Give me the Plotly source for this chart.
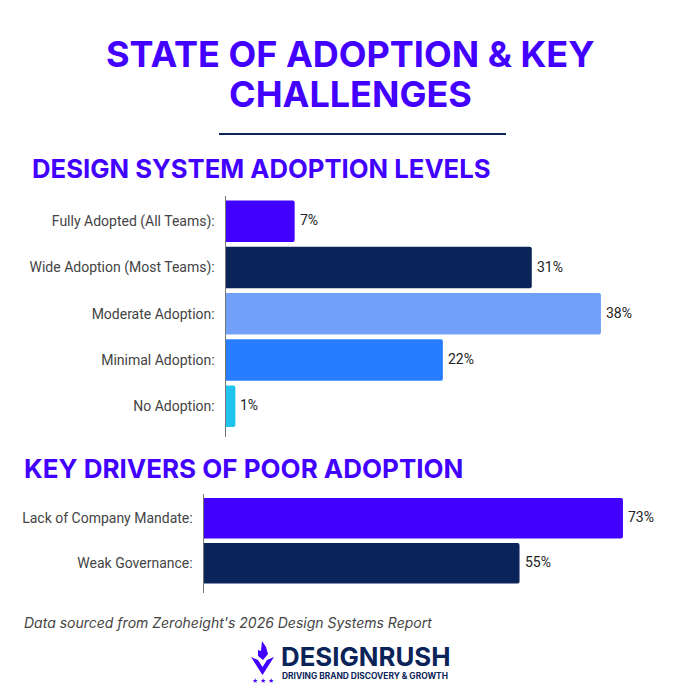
import plotly.graph_objects as go

W = 700
H = 689

# 数据
adoption_labels = ["Fully Adopted (All Teams):", "Wide Adoption (Most Teams):", "Moderate Adoption:",
                   "Minimal Adoption:", "No Adoption:"]
adoption_values = [7, 31, 38, 22, 1]
adoption_colors = ["#4200FF", "#0A2358", "#70A0F8", "#267DFF", "#1FC3EC"]

driver_labels = ["Lack of Company Mandate:", "Weak Governance:"]
driver_values = [73, 55]
driver_colors = ["#4200FF", "#0A2358"]

PURPLE = "#4200FF"
NAVY = "#0A2358"


def px(x):
    return x / W


def py(y):
    return 1 - y / H


def path(points):
    return "M" + " L".join(f"{px(x):.5f},{py(y):.5f}" for x, y in points) + " Z"


def bar_trace(labels, values, colors):
    return go.Bar(
        y=labels, x=values, orientation="h", width=0.9,
        marker=dict(color=colors, line=dict(width=0)),
        hoverinfo="skip",
    )


fig = go.Figure()
fig.add_trace(bar_trace(adoption_labels, adoption_values, adoption_colors))
t2 = bar_trace(driver_labels, driver_values, driver_colors)
t2.xaxis = "x2"
t2.yaxis = "y2"
fig.add_trace(t2)


# 数值标签
def value_labels(labels, values, xref, yref):
    for lab, v in zip(labels, values):
        fig.add_annotation(xref=xref, yref=yref, x=v, y=lab, text=f"{v}%", showarrow=False,
                           xanchor="left", xshift=3, yshift=1,
                           font=dict(family="Roboto", size=14, color="#222222"))


value_labels(adoption_labels, adoption_values, "x", "y")
value_labels(driver_labels, driver_values, "x2", "y2")


def text(x, y, s, size, color=PURPLE, family="Inter", anchor="left", bold=False, italic=False, height=None):
    if bold:
        s = f"<b>{s}</b>"
    if italic:
        s = f"<i>{s}</i>"
    fig.add_annotation(xref="paper", yref="paper", x=px(x), y=py(y), text=s, showarrow=False,
                       xanchor=anchor, yanchor="middle", height=height,
                       font=dict(family=family, size=size, color=color))


# 标题
text(350, 54, "STATE OF ADOPTION &amp; KEY", 36, anchor="center", bold=True)
text(350, 94, "CHALLENGES", 36, anchor="center", bold=True)
text(30, 169, "DESIGN SYSTEM ADOPTION LEVELS", 25.7, bold=True)
text(22, 468, "KEY DRIVERS OF POOR ADOPTION", 26, bold=True)
text(22, 622, "Data sourced from Zeroheight's 2026 Design Systems Report", 14, color="#444444", italic=True)
text(279, 656, "DESIGNRUSH", 25.8, color=NAVY, bold=True, height=22)
text(280, 676, "DRIVING BRAND DISCOVERY &amp; GROWTH", 8.4, color=NAVY, bold=True, height=10)
text(263, 680, "★ ★ ★", 6, anchor="center", color=PURPLE, height=8)

# 分隔线和 logo
shapes = [
    dict(type="line", xref="paper", yref="paper", x0=px(219), x1=px(506), y0=py(134), y1=py(134),
         line=dict(color=NAVY, width=2)),
    dict(type="path", xref="paper", yref="paper", line=dict(width=0), fillcolor=PURPLE,
         path=path([(251, 657), (258, 660), (262.5, 667), (267, 660), (274, 657), (262.5, 675)])),
    dict(type="path", xref="paper", yref="paper", line=dict(width=0), fillcolor=PURPLE,
         path=path([(262, 641), (266, 647), (268, 654), (263, 660), (258, 656), (258, 650), (261, 651)])),
]

fig.update_layout(
    width=W, height=H, margin=dict(l=0, r=0, t=0, b=0),
    paper_bgcolor="white", plot_bgcolor="white", showlegend=False,
    barcornerradius=2, shapes=shapes,
    font=dict(family="Roboto"),
    xaxis=dict(domain=[px(225.5), px(225.5 + 9.88 * 40)], range=[0, 40], visible=False),
    yaxis=dict(domain=[py(437), py(196)], range=[4.664, -0.547], type="category", anchor="x",
               showline=True, linecolor="#777777", linewidth=1, ticks="", showgrid=False,
               ticklabelstandoff=7, tickfont=dict(family="Roboto", size=14, color="#444444")),
    xaxis2=dict(domain=[px(203.5), px(203.5 + 5.746 * 80)], range=[0, 80], visible=False, anchor="y2"),
    yaxis2=dict(domain=[py(592.7), py(494)], range=[1.653, -0.54], type="category", anchor="x2",
                showline=True, linecolor="#777777", linewidth=1, ticks="", showgrid=False,
                ticklabelstandoff=7, tickfont=dict(family="Roboto", size=14, color="#444444")),
)

fig.write_html("out.html", config={"displayModeBar": False},
               post_script="document.body.style.margin='0';")
